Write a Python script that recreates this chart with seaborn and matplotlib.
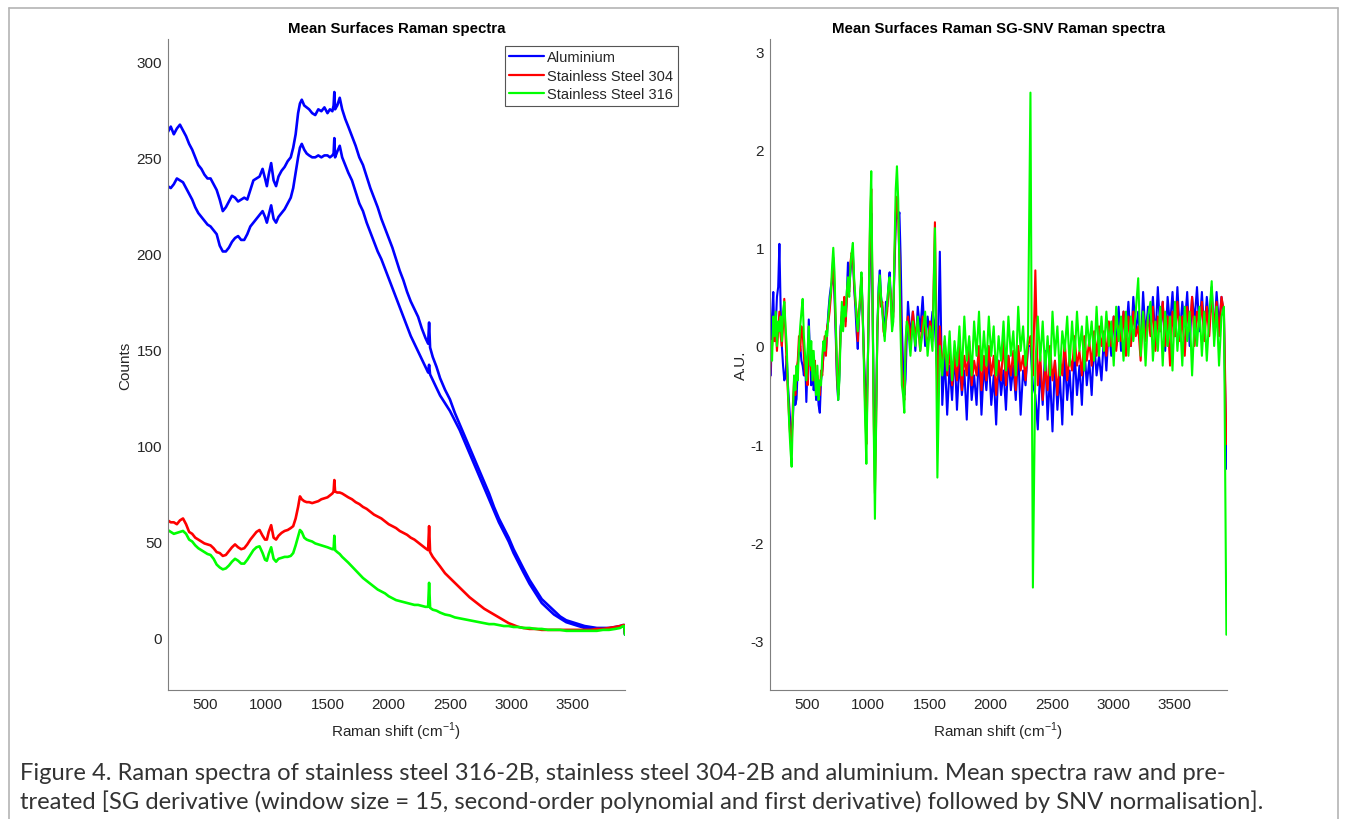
import numpy as np
import pandas as pd
import matplotlib
matplotlib.use("Agg")
import matplotlib.pyplot as plt
import seaborn as sns
from matplotlib.lines import Line2D

# ---------------- data: raw mean spectra (counts) ----------------
raw_shift = [
    195, 220, 245, 270, 295, 320, 345, 370, 395, 420,
    445, 470, 495, 520, 545, 570, 595, 620, 645, 670,
    695, 720, 745, 770, 795, 820, 845, 870, 895, 920,
    945, 970, 990, 1005, 1020, 1040, 1060, 1080, 1100, 1125,
    1150, 1175, 1200, 1220, 1240, 1260, 1275, 1290, 1310, 1330,
    1350, 1375, 1400, 1425, 1450, 1475, 1500, 1520, 1540, 1550,
    1556, 1562, 1580, 1600, 1620, 1645, 1670, 1700, 1730, 1760,
    1790, 1820, 1850, 1880, 1910, 1940, 1970, 2000, 2030, 2060,
    2090, 2120, 2150, 2180, 2210, 2240, 2270, 2300, 2322, 2330,
    2338, 2360, 2390, 2420, 2460, 2500, 2540, 2580, 2620, 2660,
    2700, 2740, 2780, 2820, 2860, 2900, 2940, 2980, 3020, 3060,
    3100, 3150, 3200, 3250, 3300, 3350, 3400, 3450, 3500, 3550,
    3600, 3650, 3700, 3750, 3800, 3850, 3890, 3915, 3925, 3930,
]
aluminium_raw_a = [
    263, 266, 262, 265, 267, 264, 261, 257, 254, 250,
    246, 244, 241, 239, 239, 236, 233, 228, 222, 224,
    227, 230, 229, 227, 228, 229, 228, 233, 238, 239,
    240, 244, 239, 235, 241, 247, 238, 235, 240, 243,
    245, 248, 250, 255, 262, 273, 278, 280, 277, 276,
    275, 273, 272, 275, 274, 276, 273, 275, 274, 277,
    284, 275, 277, 281, 275, 270, 266, 261, 256, 250,
    246, 240, 234, 229, 224, 218, 213, 208, 203, 197,
    191, 186, 180, 175, 171, 167, 161, 156, 153, 164,
    151, 146, 141, 135, 129, 124, 117, 111, 105, 99,
    93, 87, 81, 75, 68, 62, 57, 52, 46, 41,
    36, 30, 25, 20, 17, 14, 11, 9, 8, 7,
    6, 5.5, 5, 5, 5, 5.5, 6, 6.5, 6.5, 2,
]
aluminium_raw_b = [
    235, 234, 236, 239, 238, 237, 234, 231, 228, 224,
    221, 219, 217, 215, 214, 212, 210, 204, 201, 201,
    203, 206, 208, 209, 207, 207, 210, 214, 216, 218,
    220, 222, 219, 216, 220, 225, 218, 216, 219, 221,
    223, 226, 229, 234, 242, 250, 255, 257, 254, 252,
    251, 250, 250, 251, 250, 251, 251, 250, 251, 252,
    260, 250, 253, 256, 250, 246, 242, 238, 232, 226,
    222, 216, 211, 206, 201, 197, 192, 187, 182, 177,
    172, 167, 162, 157, 153, 149, 145, 141, 138, 142,
    137, 134, 130, 126, 122, 118, 113, 108, 102, 96,
    90, 84, 78, 72, 66, 60, 55, 50, 44, 39,
    34, 28, 23, 18, 15, 12, 10, 8, 7, 6,
    5, 5, 4.5, 4.5, 4.5, 5, 5.5, 6, 6, 1.5,
]
ss304_raw = [
    61, 60, 60, 59, 61, 62, 59, 55, 54, 52,
    51, 50, 49, 48.5, 48, 46.5, 44.5, 44, 42.5, 43,
    45, 47, 48.5, 47, 46, 46.5, 48.5, 51, 53, 55,
    56, 53, 51, 51, 55, 58.5, 52, 51, 53, 54.5,
    55.5, 56, 57, 58, 62, 68, 73.5, 72, 71, 70.5,
    70.5, 70, 70.5, 71, 72, 72.5, 73, 74, 75, 76,
    82, 76, 75.5, 75.5, 75, 74, 73, 72, 70.5, 69.5,
    68, 67, 65.5, 64, 63, 62, 60.5, 59, 58, 57,
    55.5, 54.5, 53.5, 52, 51, 49.5, 48, 46.5, 45.5, 58,
    44.5, 42, 39.5, 37, 33.5, 31, 28.5, 26, 23.5, 21,
    19, 17, 15, 13.5, 12, 10.5, 9, 7.5, 6.5, 5.5,
    5, 4.5, 4.5, 4, 4, 4, 4, 4, 4, 4,
    4, 4, 4.5, 4.5, 5, 5.5, 6, 6.5, 6.5, 2,
]
ss316_raw = [
    56, 55, 54, 54.5, 55, 55.5, 54, 51, 50, 48,
    46.5, 45.5, 44.5, 43.5, 43, 41, 38, 36.5, 35.5, 36,
    37.5, 39.5, 41, 40, 38.5, 38.5, 40.5, 43, 45.5, 47,
    47.5, 44, 40.5, 40, 43.5, 47, 41, 39.5, 41, 41.5,
    42, 42, 42.5, 44, 48, 52.5, 56, 55, 52, 51,
    50.5, 50, 49, 48.5, 48, 47.5, 47, 46.5, 46, 46,
    53, 45.5, 44.5, 43.5, 42, 40.5, 39, 37, 35, 33,
    31, 29.5, 28, 26.5, 25, 24, 23, 21.5, 20.5, 19.5,
    19, 18.5, 18, 17.5, 17, 17, 16.5, 16, 16, 28.5,
    15.5, 14.5, 14, 13, 12, 11.5, 10.5, 10, 9.5, 9,
    8.5, 8, 7.5, 7, 7, 6.5, 6, 6, 5.5, 5.5,
    5, 5, 4.5, 4.5, 4, 4, 4, 3.5, 3.5, 3.5,
    3.5, 3.5, 3.5, 4, 4, 4.5, 5, 6, 6, 1.5,
]

# ---------------- data: SG-SNV pretreated spectra (A.U.) ----------------
# sampling grids (cm-1): fingerprint region every 10, high region every 20
snv_shift_fp = np.arange(195, 1316, 10)
snv_shift_hi = np.arange(1325, 3926, 20)

aluminium_snv_fp = [
    0.45, -0.3, 0.3, 0.55, 0.05, 0.2, 0.5, 0.6, 1.04, 0.4,
    0.0, -0.2, -0.35, -0.3, -0.1, -0.4, -0.6, -0.8, -0.9, -0.75,
    -0.45, -0.6, -0.54, -0.2, -0.05, 0.0, -0.15, -0.2, -0.3, -0.1,
    -0.57, -0.2, 0.27, -0.1, -0.4, -0.2, -0.45, -0.3, -0.55, -0.4,
    -0.6, -0.68, -0.35, -0.25, -0.1, 0.05, -0.05, 0.15, 0.35, 0.5,
    0.6, 0.65, 0.8, 0.5, 0.1, -0.35, -0.55, -0.3, 0.2, 0.3,
    0.25, 0.45, 0.25, 0.5, 0.85, 0.6, 0.75, 0.9, 0.95, 0.6,
    0.4, 0.15, -0.03, 0.3, 0.45, 0.7, 0.35, -0.1, -0.4, -0.6,
    -0.3, 0.35, 0.9, 1.35, 0.5, -0.5, -1.03, -0.6, 0.15, 0.6,
    0.77, 0.5, 0.4, 0.25, 0.1, 0.45, 0.4, 0.6, 0.75, 0.5,
    0.3, 0.35, 0.8, 1.25, 1.4, 1.3, 1.36, 0.9, 0.2, -0.2,
    -0.5, -0.34, 0.1,
]
aluminium_snv_hi = [
    0.45, 0.1, 0.35, -0.05, 0.4, 0.15, 0.5, 0.0, 0.3, 0.1,
    0.35, 0.2, -0.3, 0.96, -0.6, -0.1, -0.7, -0.2, -0.55, -0.05,
    -0.65, -0.15, -0.5, -0.25, -0.75, -0.1, -0.55, -0.3, -0.6, -0.05,
    -0.7, -0.2, -0.45, -0.1, -0.6, -0.3, -0.8, -0.15, -0.5, -0.25,
    -0.65, -0.1, -0.45, -0.2, -0.55, -0.05, -0.7, -0.25, -0.4, 0.0,
    0.0, -0.4, -0.5, -0.85, -0.2, -0.6, -0.05, -0.75, -0.3, -0.87,
    -0.15, -0.65, -0.3, -0.8, -0.1, -0.55, -0.25, -0.7, -0.05, -0.5,
    -0.2, -0.6, 0.0, -0.4, -0.15, -0.5, 0.05, -0.3, -0.1, -0.35,
    0.1, -0.25, 0.2, -0.1, 0.3, 0.0, 0.4, -0.05, 0.35, 0.1,
    0.45, 0.0, 0.5, 0.15, 0.35, -0.05, 0.55, 0.1, 0.4, 0.2,
    0.5, 0.05, 0.6, 0.15, 0.45, -0.05, 0.5, 0.2, 0.55, 0.1,
    0.6, 0.1, 0.45, 0.2, 0.55, 0.0, 0.5, 0.25, 0.6, 0.15,
    0.55, 0.1, 0.5, 0.2, 0.6, 0.1, 0.55, 0.2, 0.5, 0.3,
    -1.25,
]
ss304_snv_fp = [
    -0.45, -0.1, 0.0, 0.15, 0.05, 0.2, -0.05, 0.15, 0.35, 0.1,
    0.0, 0.2, 0.48, 0.1, -0.2, -0.5, -0.75, -0.95, -1.05, -0.6,
    -0.35, -0.5, -0.25, -0.15, 0.1, -0.05, 0.2, 0.15, -0.1, -0.3,
    -0.2, -0.4, 0.05, -0.1, -0.25, -0.05, -0.35, -0.15, -0.45, -0.3,
    -0.4, -0.5, -0.25, -0.3, -0.05, 0.1, -0.1, 0.2, 0.25, 0.35,
    0.5, 0.7, 0.9, 0.6, 0.2, -0.3, -0.5, -0.2, 0.15, 0.35,
    0.3, 0.5, 0.2, 0.45, 0.65, 0.55, 0.85, 0.95, 0.9, 0.65,
    0.45, 0.35, 0.05, 0.35, 0.5, 0.7, 0.3, -0.1, -0.6, -1.0,
    -0.35, 0.45, 1.2, 1.6, 0.55, -0.7, -1.5, -0.75, 0.15, 0.5,
    0.65, 0.4, 0.45, 0.15, 0.1, 0.25, 0.35, 0.55, 0.65, 0.5,
    0.2, 0.3, 0.9, 1.35, 1.52, 1.3, 0.9, 0.3, -0.2, -0.45,
    -0.55, -0.05, 0.2,
]
ss304_snv_hi = [
    0.3, 0.05, 0.35, 0.1, 0.25, -0.05, 0.3, 0.15, 0.0, 0.25,
    0.05, 1.26, -0.6, 0.2, -0.25, 0.05, -0.3, -0.05, -0.4, -0.1,
    -0.35, 0.0, -0.45, -0.1, -0.3, 0.05, -0.4, -0.15, -0.3, 0.0,
    -0.45, -0.1, -0.35, 0.0, -0.3, -0.1, -0.5, -0.15, -0.35, 0.05,
    -0.4, -0.1, -0.3, -0.05, -0.45, 0.0, -0.25, -0.1, -0.35, 0.0,
    0.1, -0.3, 0.77, -0.4, -0.1, -0.55, -0.2, -0.45, 0.0, -0.35,
    -0.15, -0.5, -0.1, -0.3, 0.05, -0.35, -0.1, -0.25, 0.1, -0.2,
    -0.05, -0.3, 0.1, -0.15, 0.05, -0.2, 0.15, -0.1, 0.2, 0.0,
    0.15, -0.1, 0.25, 0.0, 0.3, -0.05, 0.2, 0.05, 0.35, -0.1,
    0.3, 0.0, 0.35, 0.1, 0.2, -0.15, 0.35, 0.05, 0.3, 0.1,
    0.4, -0.05, 0.3, 0.15, 0.45, 0.0, 0.3, -0.2, 0.35, 0.1,
    0.45, 0.05, 0.3, -0.1, 0.4, 0.15, 0.5, 0.0, 0.35, 0.2,
    0.45, 0.05, 0.4, 0.1, 0.5, 0.2, 0.45, 0.1, 0.5, 0.35,
    -1.0,
]
ss316_snv_fp = [
    -0.3, 0.05, -0.15, 0.3, 0.1, 0.35, 0.0, 0.25, 0.15, 0.3,
    0.05, 0.35, 0.45, 0.2, 0.0, -0.45, -0.8, -1.05, -1.23, -0.7,
    -0.3, -0.45, -0.2, -0.35, 0.0, 0.2, 0.35, 0.48, 0.1, -0.1,
    -0.35, -0.05, 0.2, -0.2, 0.05, -0.35, -0.05, -0.3, -0.5, -0.2,
    -0.55, -0.35, -0.4, -0.1, 0.05, -0.05, 0.15, 0.1, 0.3, 0.45,
    0.55, 0.8, 1.0, 0.75, 0.25, -0.2, -0.55, -0.35, 0.1, 0.45,
    0.15, 0.4, 0.3, 0.55, 0.7, 0.5, 0.8, 0.95, 1.05, 0.7,
    0.5, 0.3, 0.15, 0.3, 0.55, 0.75, 0.35, -0.2, -0.75, -1.2,
    -0.4, 0.5, 1.3, 1.78, 0.6, -0.8, -1.76, -0.8, 0.2, 0.55,
    0.72, 0.5, 0.35, 0.2, 0.05, 0.3, 0.45, 0.6, 0.7, 0.45,
    0.15, 0.25, 1.0, 1.6, 1.83, 1.5, 0.8, 0.1, -0.4, -0.5,
    -0.68, 0.05, 0.25,
]
ss316_snv_hi = [
    0.2, -0.1, 0.25, 0.0, 0.3, -0.05, 0.15, 0.35, -0.1, 0.2,
    -0.05, 1.2, -1.34, 0.0, -0.3, 0.1, -0.25, 0.15, -0.35, 0.05,
    -0.2, 0.2, -0.3, 0.3, -0.15, 0.1, -0.3, 0.25, -0.1, 0.35,
    -0.25, 0.15, -0.2, 0.3, -0.1, 0.2, -0.3, 0.1, -0.15, 0.25,
    -0.25, 0.3, -0.1, 0.15, -0.3, 0.4, -0.05, 0.2, -0.2, 0.1,
    2.58, -2.46, -0.2, 0.3, -0.15, 0.25, -0.25, 0.1, -0.3, 0.35,
    -0.1, 0.2, -0.3, 0.15, -0.05, 0.3, -0.2, 0.25, -0.15, 0.35,
    -0.05, 0.2, -0.25, 0.3, 0.0, 0.25, -0.15, 0.4, -0.1, 0.3,
    -0.05, 0.35, 0.0, 0.25, -0.2, 0.4, 0.05, 0.3, -0.15, 0.35,
    -0.1, 0.3, 0.05, 0.35, 0.69, -0.1, 0.35, -0.2, 0.3, 0.45,
    -0.15, 0.25, -0.05, 0.4, -0.2, 0.35, 0.0, 0.3, -0.25, 0.45,
    -0.05, 0.3, -0.2, 0.4, 0.05, 0.35, -0.3, 0.3, 0.0, 0.4,
    -0.1, 0.35, -0.15, 0.3, 0.66, 0.0, 0.4, -0.2, 0.3, 0.4,
    -2.94,
]

legend_labels = ["Aluminium", "Stainless Steel 304", "Stainless Steel 316"]
series_colors = ["#0000ff", "#ff0000", "#00ff00"]
x_ticks = [500, 1000, 1500, 2000, 2500, 3000, 3500]
raw_y_ticks = [0, 50, 100, 150, 200, 250, 300]
snv_y_ticks = [-3, -2, -1, 0, 1, 2, 3]
caption_lines = [
    "Figure 4. Raman spectra of stainless steel 316-2B, stainless steel 304-2B and aluminium. Mean spectra raw and pre-",
    "treated [SG derivative (window size = 15, second-order polynomial and first derivative) followed by SNV normalisation].",
]

# ---------------- figure ----------------
sns.set_theme(style="white")
plt.rcParams['font.family'] = ['Liberation Sans', 'DejaVu Sans']
plt.rcParams['mathtext.fontset'] = 'custom'
plt.rcParams['mathtext.rm'] = 'Liberation Sans'
plt.rcParams['axes.unicode_minus'] = False

W, H = 1346, 820
fig = plt.figure(figsize=(W / 100, H / 100), dpi=100)
fig.patch.set_facecolor("white")

ax1 = fig.add_axes([167.7 / W, 1 - 691 / H, (625 - 167.7) / W, (691 - 40) / H])
ax2 = fig.add_axes([769.6 / W, 1 - 691 / H, (1227 - 769.6) / W, (691 - 40) / H])

spine_col = "#7f7f7f"
text_col = "#262626"

raw_df = pd.DataFrame({
    "shift": raw_shift,
    "al_a": aluminium_raw_a,
    "al_b": aluminium_raw_b,
    "ss304": ss304_raw,
    "ss316": ss316_raw,
})
for col, c in [("al_a", series_colors[0]), ("al_b", series_colors[0]),
               ("ss304", series_colors[1]), ("ss316", series_colors[2])]:
    sns.lineplot(data=raw_df, x="shift", y=col, ax=ax1, color=c, lw=1.9,
                 estimator=None, sort=False, legend=False)

snv_shift = np.concatenate([snv_shift_fp, snv_shift_hi])
snv_df = pd.DataFrame({
    "shift": snv_shift,
    "al": aluminium_snv_fp + aluminium_snv_hi,
    "ss304": ss304_snv_fp + ss304_snv_hi,
    "ss316": ss316_snv_fp + ss316_snv_hi,
})
for col, c in [("al", series_colors[0]), ("ss304", series_colors[1]),
               ("ss316", series_colors[2])]:
    sns.lineplot(data=snv_df, x="shift", y=col, ax=ax2, color=c, lw=1.5,
                 estimator=None, sort=False, legend=False)

for ax in (ax1, ax2):
    ax.set_xlim(195, 3930)
    ax.set_xticks(x_ticks)
    ax.set_xticklabels([str(t) for t in x_ticks])
    for s in ("top", "right"):
        ax.spines[s].set_visible(False)
    for s in ("left", "bottom"):
        ax.spines[s].set_color(spine_col)
        ax.spines[s].set_linewidth(0.8)
    ax.tick_params(direction="in", length=4.5, width=0.8, color=spine_col,
                   labelsize=11, labelcolor=text_col, pad=4)
    ax.tick_params(axis="x", pad=5)
    ax.set_xlabel("Raman shift (cm$^{-1}$)", fontsize=11, color=text_col, labelpad=6)
    ax.set_facecolor("white")

ax1.set_ylim(-27.3, 311.6)
ax1.set_yticks(raw_y_ticks)
ax1.set_ylabel("Counts", fontsize=11, color=text_col, labelpad=3)
ax1.set_title("Mean Surfaces Raman spectra", fontsize=10.8, fontweight="bold",
              color="black", pad=5)

ax2.set_ylim(-3.503, 3.126)
ax2.set_yticks(snv_y_ticks)
ax2.set_ylabel("A.U.", fontsize=11, color=text_col, labelpad=2)
ax2.set_title("Mean Surfaces Raman SG-SNV Raman spectra", fontsize=10.8,
              fontweight="bold", color="black", pad=5)

handles = [Line2D([0], [0], color=c, lw=1.6) for c in series_colors]
leg = ax1.legend(handles, legend_labels, loc="upper left",
                 bbox_to_anchor=(505 / W, 1 - 47 / H), bbox_transform=fig.transFigure,
                 borderaxespad=0, fontsize=10.5, frameon=True, fancybox=False,
                 framealpha=1, edgecolor="#555555", handlelength=2.4,
                 handletextpad=0.2, labelspacing=0.3, borderpad=0.3)
leg.get_frame().set_linewidth(0.8)
for t in leg.get_texts():
    t.set_color(text_col)

# outer frame
border_col = "#b4b4b4"
fig.add_artist(Line2D([8.5 / W, 8.5 / W], [0, 1 - 8.5 / H], transform=fig.transFigure,
                      color=border_col, lw=1.2))
fig.add_artist(Line2D([1337.5 / W, 1337.5 / W], [0, 1 - 8.5 / H], transform=fig.transFigure,
                      color=border_col, lw=1.2))
fig.add_artist(Line2D([8.5 / W, 1337.5 / W], [1 - 8.5 / H, 1 - 8.5 / H],
                      transform=fig.transFigure, color=border_col, lw=1.2))

# caption
fig.text(20 / W, 1 - 774 / H, caption_lines[0], ha="left", va="center",
         fontfamily=["Lato", "DejaVu Sans"], fontsize=17.1, color="#333333")
fig.text(20 / W, 1 - 802 / H, caption_lines[1], ha="left", va="center",
         fontfamily=["Lato", "DejaVu Sans"], fontsize=17.1, color="#333333")

fig.savefig("out.png", dpi=100, facecolor="white")
